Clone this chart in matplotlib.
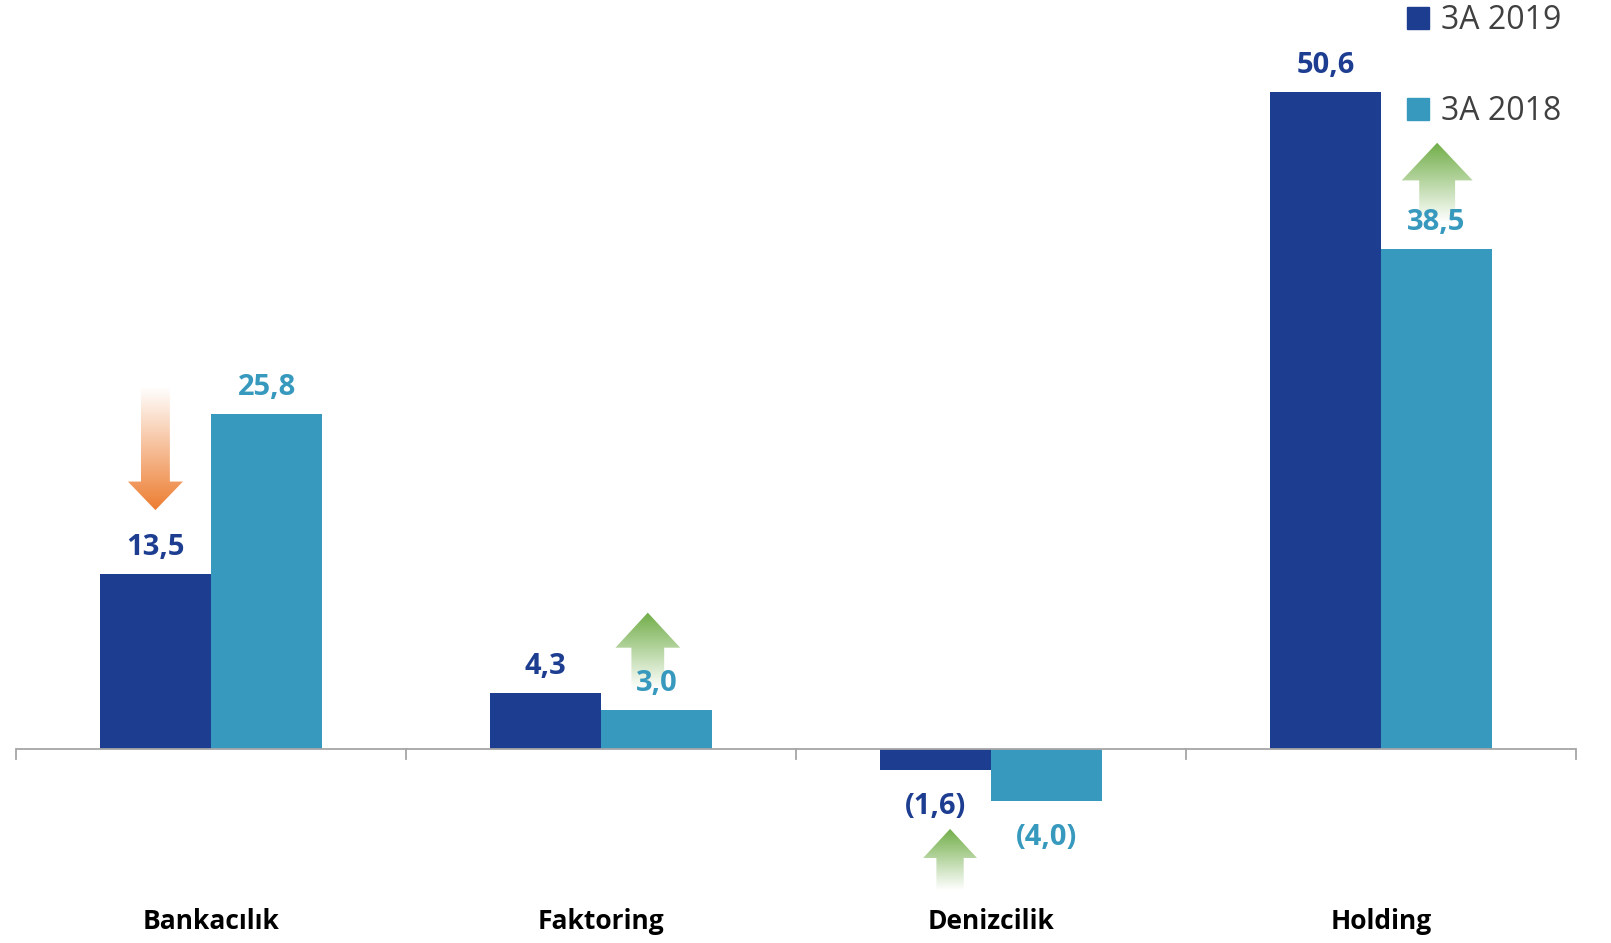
import numpy as np
import matplotlib.pyplot as plt
from matplotlib.patches import Polygon, Patch
from matplotlib.colors import LinearSegmentedColormap

plt.rcParams['font.family'] = ['Open Sans', 'DejaVu Sans']

categories = ['Bankacılık', 'Faktoring', 'Denizcilik', 'Holding']
vals_2019 = [13.5, 4.3, -1.6, 50.6]
vals_2018 = [25.8, 3.0, -4.0, 38.5]
series_names = ['3A 2019', '3A 2018']

# arrow hints: (category, x offset, direction)
arrows = [(0, -0.1425, 'down'), (1, 0.12, 'up'), (2, -0.105, 'up'), (3, 0.144, 'up')]

c_dark = '#1D3D91'
c_light = '#3799BD'
c_orange = '#ED7D31'
c_green = '#70AD47'

fig = plt.figure(figsize=(16.11, 9.43), dpi=100)
ax = fig.add_axes([16 / 1611, 0, 1560 / 1611, 1])
ax.set_xlim(-0.5, 3.5)
ax.set_ylim(-14.95, 57.70)
ax.axis('off')

x = np.arange(len(categories))
w = 0.285
ax.bar(x - w / 2, vals_2019, w, color=c_dark, zorder=2)
ax.bar(x + w / 2, vals_2018, w, color=c_light, zorder=2)

# axis line and ticks at category boundaries
ax.axhline(0, color='#A6A6A6', lw=1.3, zorder=3)
for b in np.arange(-0.5, 4.0, 1.0):
    ax.plot([b, b], [0, -0.75], color='#A6A6A6', lw=1.3, clip_on=False, zorder=3)


def fmt(v):
    s = f'{abs(v):.1f}'.replace('.', ',')
    return f'({s})' if v < 0 else s


for xi, v in zip(x - w / 2, vals_2019):
    y = v + 2.05 if v >= 0 else v - 2.8
    ax.text(xi, y, fmt(v), ha='center', va='center', fontsize=21,
            fontweight='bold', color=c_dark, zorder=5)
for xi, v in zip(x + w / 2, vals_2018):
    y = v + 2.05 if v >= 0 else v - 2.8
    ax.text(xi, y, fmt(v), ha='center', va='center', fontsize=21,
            fontweight='bold', color=c_light, zorder=5)

for xi, name in zip(x, categories):
    ax.text(xi, -13.3, name, ha='center', va='center', fontsize=19,
            fontweight='bold', color='black')


def grad_arrow(cx, y_tail, y_base, y_tip, shaft, head, color):
    pts = [(cx - shaft, y_tail), (cx - shaft, y_base), (cx - head, y_base),
           (cx, y_tip), (cx + head, y_base), (cx + shaft, y_base),
           (cx + shaft, y_tail)]
    poly = Polygon(pts, closed=True, facecolor='none', edgecolor='none')
    ax.add_patch(poly)
    cmap = LinearSegmentedColormap.from_list('g', ['white', color])
    grad = np.linspace(0, 1, 256).reshape(-1, 1)
    lo, hi = min(y_tail, y_tip), max(y_tail, y_tip)
    # origin lower: row 0 at bottom; colour strongest at the tip
    if y_tip < y_tail:
        grad = grad[::-1]
    im = ax.imshow(grad, cmap=cmap, aspect='auto', origin='lower',
                   extent=[cx - head, cx + head, lo, hi], zorder=4,
                   interpolation='bilinear')
    im.set_clip_path(poly)


for cat, off, d in arrows:
    cx = cat + off
    if d == 'down':
        grad_arrow(cx, 27.8, 20.6, 18.4, 0.037, 0.0705, c_orange)
    elif cat == 1:
        grad_arrow(cx, 4.6, 7.8, 10.5, 0.042, 0.083, c_green)
    elif cat == 2:
        grad_arrow(cx, -10.9, -8.4, -6.16, 0.035, 0.069, c_green)
    else:
        grad_arrow(cx, 40.6, 43.8, 46.7, 0.046, 0.091, c_green)

handles = [Patch(color=c_dark), Patch(color=c_light)]
fig.legend(handles, series_names, loc='upper left',
           bbox_to_anchor=(1391 / 1611, 1 + 12 / 943), frameon=False,
           fontsize=23, handlelength=0.68, handleheight=0.68,
           handletextpad=0.4, labelspacing=1.82, borderpad=0,
           labelcolor='#404040')

fig.savefig('out.png', dpi=100)
